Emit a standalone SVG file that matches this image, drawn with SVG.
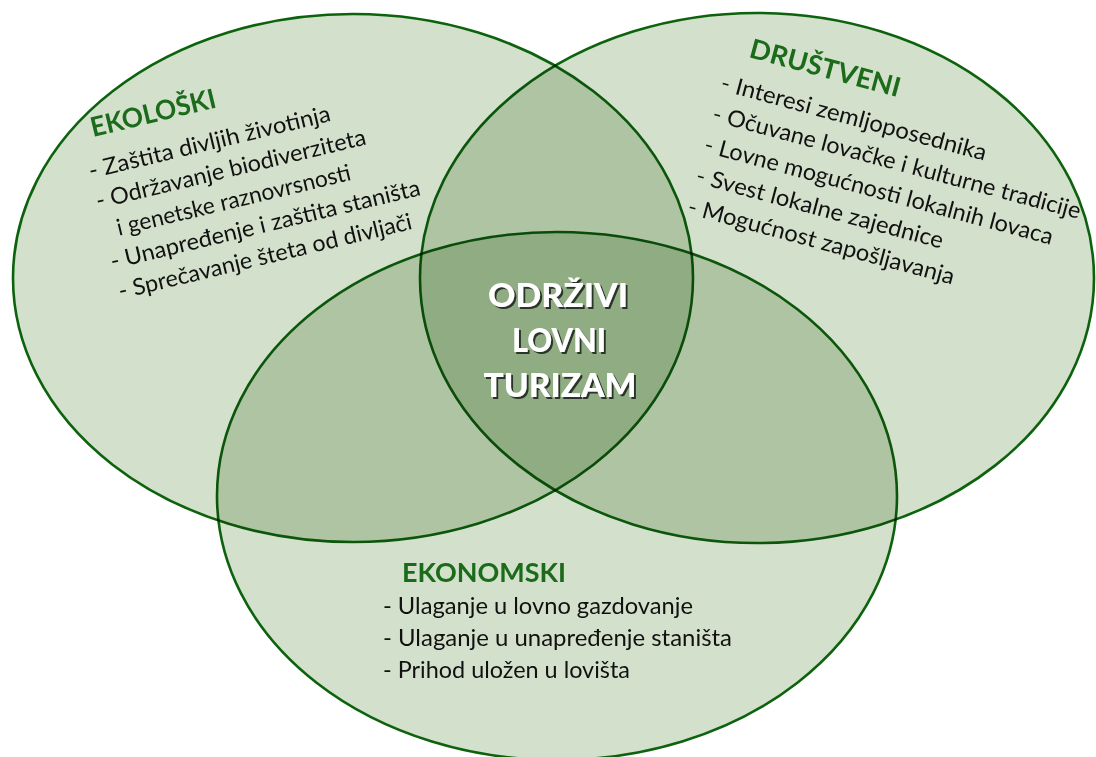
<svg xmlns="http://www.w3.org/2000/svg" width="1096" height="757" viewBox="0 0 1096 757">
  <defs>
    <style>
      .set { fill: #d3e0cc; stroke: #0d620d; stroke-width: 2.6; mix-blend-mode: multiply; }
      .title { font-family: Lato, "Liberation Sans", sans-serif; font-weight: 700; font-size: 27px; fill: #1b6b1b; }
      .item { font-family: Lato, "Liberation Sans", sans-serif; font-size: 23px; fill: #111111; }
      .core { font-family: Lato, "Liberation Sans", sans-serif; font-weight: 900; font-size: 33px; fill: #ffffff; text-anchor: middle; filter: url(#shadow); }
    </style>
    <filter id="shadow" x="-20%" y="-40%" width="140%" height="180%">
      <feDropShadow dx="2" dy="2" stdDeviation="0.6" flood-color="#1e2a1a" flood-opacity="0.9"/>
    </filter>
  </defs>
  <rect x="0" y="0" width="1096" height="757" fill="#ffffff"/>

  <g id="ekoloski">
    <ellipse class="set" cx="353" cy="278" rx="340" ry="264"/>
    <g transform="translate(93,137) rotate(-13.5)">
      <text class="title" x="0" y="0" textLength="128" lengthAdjust="spacingAndGlyphs">EKOLOŠKI</text>
      <text class="item" x="-12" y="40" textLength="248" lengthAdjust="spacingAndGlyphs">- Zaštita divljih životinja</text>
      <text class="item" x="-12" y="71" textLength="277" lengthAdjust="spacingAndGlyphs">- Održavanje biodiverziteta</text>
      <text class="item" x="2" y="102" textLength="240" lengthAdjust="spacingAndGlyphs">i genetske raznovrsnosti</text>
      <text class="item" x="-12" y="133" textLength="318" lengthAdjust="spacingAndGlyphs">- Unapređenje i zaštita staništa</text>
      <text class="item" x="-11" y="164" textLength="301" lengthAdjust="spacingAndGlyphs">- Sprečavanje šteta od divljači</text>
    </g>
  </g>

  <g id="drustveni">
    <ellipse class="set" cx="757" cy="278" rx="337" ry="265"/>
    <g transform="translate(748,57) rotate(15)">
      <text class="title" x="0" y="0" textLength="155" lengthAdjust="spacingAndGlyphs">DRUŠTVENI</text>
      <text class="item" x="-19" y="39" textLength="274" lengthAdjust="spacingAndGlyphs">- Interesi zemljoposednika</text>
      <text class="item" x="-19" y="71" textLength="380" lengthAdjust="spacingAndGlyphs">- Očuvane lovačke i kulturne tradicije</text>
      <text class="item" x="-19" y="103" textLength="360" lengthAdjust="spacingAndGlyphs">- Lovne mogućnosti lokalnih lovaca</text>
      <text class="item" x="-19" y="135" textLength="255" lengthAdjust="spacingAndGlyphs">- Svest lokalne zajednice</text>
      <text class="item" x="-19" y="167" textLength="275" lengthAdjust="spacingAndGlyphs">- Mogućnost zapošljavanja</text>
    </g>
  </g>

  <g id="ekonomski">
    <ellipse class="set" cx="557" cy="496" rx="340" ry="264"/>
    <text class="title" x="402" y="582" font-size="27" textLength="164" lengthAdjust="spacingAndGlyphs">EKONOMSKI</text>
    <text class="item" x="383" y="614" textLength="310" lengthAdjust="spacingAndGlyphs">- Ulaganje u lovno gazdovanje</text>
    <text class="item" x="383" y="646" textLength="349" lengthAdjust="spacingAndGlyphs">- Ulaganje u unapređenje staništa</text>
    <text class="item" x="383" y="678" textLength="247" lengthAdjust="spacingAndGlyphs">- Prihod uložen u lovišta</text>
  </g>

  <g id="odrzivi-lovni-turizam">
    <text class="core" x="558" y="307" textLength="140" lengthAdjust="spacingAndGlyphs">ODRŽIVI</text>
    <text class="core" x="559" y="352" textLength="94" lengthAdjust="spacingAndGlyphs">LOVNI</text>
    <text class="core" x="560" y="397" textLength="153" lengthAdjust="spacingAndGlyphs">TURIZAM</text>
  </g>

  <g id="connectors"></g>
</svg>
